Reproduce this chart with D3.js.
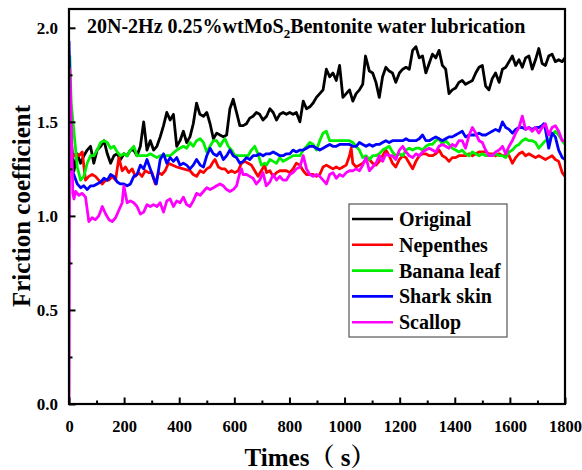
<!DOCTYPE html>
<html>
<head>
<meta charset="utf-8">
<script src="https://cdn.jsdelivr.net/npm/d3@7"></script>
<style>
  html, body { margin: 0; padding: 0; background: #fff; }
  svg text { font-family: "Liberation Serif", "Times New Roman", "Noto Serif CJK SC", "Noto Sans CJK SC", serif; font-weight: bold; fill: #000; }
</style>
</head>
<body>
<svg id="chart" width="582" height="470"></svg>
<script>
// Friction coefficient vs. time for five surface textures
const seriesNames = ["Original", "Nepenthes", "Banana leaf", "Shark skin", "Scallop"];
const seriesColors = ["#000000", "#ff0000", "#00ee00", "#0000ff", "#ff00ff"];

const xTicks = [0, 200, 400, 600, 800, 1000, 1200, 1400, 1600, 1800];
const yTicks = [0.0, 0.5, 1.0, 1.5, 2.0];

// [time (s), friction coefficient]
const original = [
  [0,1.72],[8,1.40],[18,1.24],[30,1.33],[42,1.28],[54,1.32],[66,1.35],[78,1.37],[90,1.28],[102,1.35],
  [115,1.37],[127,1.40],[139,1.33],[151,1.28],[163,1.32],[175,1.33],[187,1.30],[199,1.33],[211,1.32],
  [223,1.35],[235,1.35],[247,1.32],[259,1.37],[271,1.50],[283,1.35],[295,1.40],[307,1.35],[319,1.37],
  [331,1.42],[343,1.48],[355,1.55],[367,1.51],[379,1.54],[391,1.37],[403,1.40],[415,1.45],[427,1.39],
  [439,1.42],[451,1.49],[463,1.60],[475,1.54],[488,1.53],[500,1.55],[512,1.49],[524,1.41],[536,1.44],
  [548,1.43],[560,1.42],[572,1.43],[584,1.57],[596,1.62],[608,1.55],[620,1.48],[632,1.48],[644,1.49],
  [656,1.52],[668,1.53],[680,1.55],[692,1.54],[704,1.51],[717,1.53],[729,1.57],[741,1.55],[753,1.51],
  [765,1.54],[777,1.55],[789,1.54],[801,1.55],[813,1.54],[825,1.55],[838,1.50],[850,1.61],[862,1.57],
  [874,1.58],[886,1.60],[898,1.63],[910,1.65],[922,1.67],[934,1.78],[946,1.74],[958,1.76],[970,1.72],
  [982,1.80],[994,1.63],[1006,1.65],[1018,1.67],[1030,1.61],[1042,1.65],[1054,1.67],[1066,1.70],
  [1076,1.85],[1090,1.77],[1102,1.76],[1114,1.71],[1126,1.63],[1138,1.74],[1150,1.79],[1162,1.77],
  [1174,1.76],[1186,1.71],[1199,1.76],[1211,1.78],[1223,1.79],[1235,1.78],[1247,1.88],[1259,1.90],
  [1271,1.84],[1283,1.85],[1295,1.76],[1307,1.81],[1319,1.86],[1331,1.84],[1343,1.88],[1355,1.80],
  [1367,1.78],[1379,1.65],[1391,1.67],[1403,1.68],[1415,1.71],[1427,1.72],[1439,1.70],[1452,1.71],
  [1464,1.72],[1476,1.76],[1488,1.79],[1500,1.80],[1512,1.69],[1524,1.67],[1536,1.73],[1548,1.76],
  [1561,1.71],[1573,1.78],[1585,1.79],[1597,1.82],[1609,1.85],[1621,1.80],[1633,1.83],[1645,1.79],
  [1657,1.84],[1669,1.85],[1681,1.78],[1693,1.83],[1705,1.89],[1717,1.81],[1729,1.80],[1741,1.85],
  [1753,1.86],[1765,1.82],[1777,1.83],[1790,1.82],[1800,1.84]
];

const nepenthes = [
  [0,1.55],[6,1.30],[24,1.33],[36,1.32],[48,1.34],[60,1.19],[72,1.21],[84,1.22],[96,1.21],[108,1.19],
  [121,1.17],[133,1.19],[145,1.19],[157,1.21],[169,1.19],[181,1.31],[193,1.24],[205,1.26],[217,1.23],
  [229,1.25],[241,1.21],[253,1.23],[265,1.21],[277,1.24],[289,1.23],[301,1.23],[313,1.17],[325,1.23],
  [337,1.22],[349,1.24],[361,1.28],[391,1.26],[415,1.25],[439,1.24],[451,1.22],[463,1.21],[476,1.24],
  [488,1.23],[500,1.25],[512,1.26],[524,1.29],[530,1.30],[542,1.26],[554,1.25],[566,1.25],[578,1.23],
  [590,1.24],[602,1.23],[614,1.24],[626,1.28],[638,1.29],[650,1.28],[662,1.27],[674,1.24],[686,1.21],
  [698,1.24],[710,1.27],[717,1.23],[729,1.24],[741,1.21],[753,1.23],[765,1.24],[777,1.24],[789,1.24],
  [801,1.23],[813,1.25],[825,1.28],[838,1.27],[850,1.24],[862,1.22],[874,1.22],[886,1.22],[898,1.21],
  [910,1.22],[922,1.26],[934,1.27],[946,1.26],[958,1.25],[970,1.26],[982,1.25],[994,1.26],[1006,1.27],
  [1018,1.32],[1024,1.36],[1030,1.28],[1042,1.26],[1054,1.27],[1066,1.28],[1078,1.30],[1090,1.30],
  [1102,1.28],[1114,1.27],[1126,1.29],[1138,1.32],[1150,1.35],[1162,1.32],[1174,1.28],[1186,1.26],
  [1199,1.30],[1211,1.32],[1223,1.31],[1235,1.28],[1247,1.25],[1259,1.29],[1271,1.32],[1283,1.33],
  [1295,1.33],[1307,1.32],[1319,1.32],[1331,1.33],[1343,1.35],[1355,1.32],[1367,1.31],[1379,1.29],
  [1391,1.31],[1403,1.31],[1415,1.32],[1427,1.32],[1439,1.32],[1452,1.33],[1464,1.32],[1476,1.33],
  [1488,1.34],[1500,1.34],[1512,1.34],[1524,1.33],[1536,1.33],[1548,1.32],[1561,1.33],[1573,1.32],
  [1585,1.32],[1597,1.32],[1609,1.28],[1621,1.31],[1633,1.33],[1645,1.34],[1657,1.32],[1669,1.33],
  [1681,1.32],[1693,1.31],[1705,1.32],[1717,1.31],[1729,1.30],[1741,1.31],[1753,1.32],[1765,1.30],
  [1777,1.29],[1790,1.23],[1800,1.21]
];

const bananaLeaf = [
  [0,1.75],[3,1.85],[8,1.60],[30,1.26],[42,1.19],[54,1.21],[66,1.28],[78,1.32],[90,1.32],[102,1.35],
  [115,1.39],[127,1.40],[139,1.39],[151,1.36],[163,1.37],[175,1.34],[187,1.32],[199,1.33],[211,1.32],
  [223,1.35],[235,1.37],[247,1.32],[259,1.32],[271,1.32],[283,1.32],[295,1.33],[307,1.32],[319,1.31],
  [331,1.32],[343,1.32],[367,1.32],[391,1.35],[415,1.37],[427,1.36],[439,1.39],[451,1.37],[463,1.40],
  [476,1.41],[488,1.39],[500,1.34],[512,1.37],[524,1.40],[536,1.40],[548,1.37],[560,1.40],[566,1.41],
  [578,1.37],[590,1.35],[602,1.32],[614,1.32],[626,1.32],[638,1.32],[650,1.32],[662,1.35],[674,1.37],
  [686,1.33],[698,1.27],[710,1.28],[717,1.27],[729,1.30],[741,1.29],[753,1.28],[765,1.31],[777,1.29],
  [789,1.30],[801,1.31],[813,1.32],[825,1.32],[838,1.32],[850,1.35],[862,1.37],[874,1.39],[886,1.38],
  [898,1.35],[910,1.40],[922,1.44],[934,1.45],[946,1.40],[958,1.40],[970,1.40],[982,1.40],[994,1.40],
  [1006,1.40],[1018,1.40],[1030,1.39],[1042,1.37],[1054,1.35],[1066,1.31],[1078,1.32],[1090,1.30],
  [1102,1.32],[1114,1.32],[1126,1.33],[1138,1.35],[1150,1.36],[1162,1.37],[1174,1.34],[1186,1.32],
  [1199,1.33],[1211,1.32],[1223,1.35],[1235,1.36],[1247,1.35],[1259,1.36],[1271,1.36],[1283,1.35],
  [1295,1.37],[1307,1.38],[1319,1.38],[1331,1.40],[1343,1.41],[1355,1.38],[1367,1.40],[1379,1.38],
  [1391,1.36],[1403,1.35],[1415,1.34],[1427,1.35],[1439,1.33],[1452,1.32],[1464,1.34],[1476,1.33],
  [1488,1.32],[1500,1.33],[1512,1.32],[1524,1.32],[1536,1.32],[1548,1.33],[1561,1.32],[1573,1.32],
  [1585,1.31],[1597,1.34],[1609,1.35],[1621,1.37],[1633,1.38],[1645,1.40],[1657,1.41],[1669,1.40],
  [1681,1.40],[1693,1.39],[1705,1.36],[1717,1.38],[1729,1.40],[1741,1.40],[1753,1.43],[1765,1.45],
  [1777,1.43],[1790,1.40],[1800,1.38]
];

const sharkSkin = [
  [0,1.93],[4,1.60],[10,1.25],[30,1.17],[42,1.15],[54,1.16],[66,1.14],[78,1.16],[90,1.16],[102,1.17],
  [115,1.18],[127,1.20],[139,1.19],[151,1.22],[163,1.21],[175,1.18],[187,1.17],[199,1.17],[211,1.16],
  [223,1.17],[235,1.21],[247,1.22],[259,1.27],[271,1.25],[283,1.30],[295,1.25],[307,1.20],[317,1.17],
  [331,1.30],[343,1.33],[355,1.28],[367,1.31],[379,1.29],[391,1.31],[403,1.27],[415,1.28],[427,1.27],
  [439,1.25],[451,1.27],[463,1.30],[476,1.27],[488,1.26],[500,1.32],[512,1.36],[524,1.33],[536,1.32],
  [548,1.34],[560,1.30],[572,1.32],[584,1.35],[596,1.32],[608,1.31],[620,1.28],[632,1.29],[644,1.31],
  [656,1.30],[668,1.32],[680,1.32],[692,1.33],[704,1.32],[716,1.33],[729,1.33],[741,1.34],[753,1.33],
  [765,1.32],[777,1.32],[789,1.33],[801,1.33],[813,1.35],[825,1.34],[838,1.35],[850,1.35],[862,1.36],
  [874,1.37],[886,1.37],[898,1.36],[910,1.35],[922,1.36],[934,1.37],[946,1.38],[958,1.37],[970,1.37],
  [982,1.38],[994,1.38],[1006,1.38],[1018,1.38],[1030,1.37],[1042,1.37],[1054,1.39],[1066,1.38],
  [1078,1.37],[1090,1.38],[1102,1.37],[1114,1.38],[1126,1.38],[1138,1.39],[1150,1.40],[1162,1.39],
  [1174,1.40],[1186,1.40],[1199,1.40],[1211,1.40],[1223,1.41],[1235,1.40],[1247,1.40],[1259,1.40],
  [1271,1.41],[1283,1.43],[1295,1.40],[1307,1.40],[1319,1.41],[1331,1.42],[1343,1.41],[1355,1.40],
  [1367,1.41],[1379,1.42],[1391,1.42],[1403,1.43],[1415,1.44],[1427,1.45],[1439,1.42],[1452,1.43],
  [1464,1.43],[1476,1.43],[1488,1.44],[1500,1.43],[1512,1.43],[1524,1.44],[1536,1.45],[1548,1.46],
  [1561,1.45],[1573,1.50],[1585,1.47],[1597,1.46],[1609,1.44],[1621,1.46],[1633,1.47],[1645,1.47],
  [1657,1.46],[1669,1.47],[1681,1.46],[1693,1.47],[1705,1.47],[1717,1.48],[1723,1.49],[1729,1.46],
  [1741,1.36],[1753,1.44],[1765,1.42],[1777,1.35],[1790,1.31],[1800,1.30]
];

const scallop = [
  [0,0.00],[3,1.78],[8,1.50],[14,1.12],[18,1.09],[24,1.13],[36,1.11],[48,1.12],[60,1.10],[72,0.97],
  [84,0.99],[96,0.98],[108,1.00],[121,1.05],[133,1.01],[145,0.98],[157,0.97],[169,0.99],[181,1.03],
  [193,1.07],[199,1.16],[211,1.07],[223,1.08],[235,1.07],[247,1.05],[259,1.01],[271,1.02],[283,1.06],
  [295,1.05],[307,1.06],[319,1.05],[331,1.07],[343,1.02],[355,1.08],[367,1.09],[379,1.05],[391,1.08],
  [403,1.07],[415,1.10],[427,1.06],[439,1.05],[451,1.08],[463,1.12],[476,1.11],[488,1.13],[500,1.15],
  [512,1.14],[524,1.15],[536,1.16],[548,1.17],[560,1.16],[572,1.14],[584,1.13],[596,1.14],[608,1.16],
  [620,1.23],[626,1.25],[632,1.22],[644,1.22],[656,1.21],[668,1.20],[680,1.17],[692,1.19],[704,1.23],
  [716,1.16],[729,1.18],[741,1.22],[753,1.19],[765,1.21],[777,1.19],[789,1.19],[801,1.22],[813,1.23],
  [825,1.25],[838,1.26],[850,1.32],[862,1.25],[874,1.22],[886,1.21],[898,1.22],[910,1.21],[922,1.19],
  [934,1.17],[946,1.22],[958,1.23],[970,1.20],[982,1.22],[994,1.21],[1006,1.23],[1018,1.24],[1030,1.24],
  [1042,1.25],[1054,1.24],[1066,1.27],[1078,1.31],[1090,1.24],[1102,1.26],[1114,1.28],[1126,1.32],
  [1138,1.29],[1150,1.33],[1162,1.32],[1174,1.32],[1186,1.30],[1199,1.35],[1211,1.37],[1223,1.34],
  [1235,1.32],[1247,1.31],[1259,1.33],[1271,1.32],[1283,1.34],[1295,1.35],[1307,1.36],[1319,1.35],
  [1331,1.34],[1343,1.37],[1355,1.38],[1367,1.37],[1379,1.36],[1391,1.38],[1403,1.37],[1415,1.40],
  [1427,1.40],[1439,1.36],[1452,1.43],[1464,1.47],[1476,1.44],[1488,1.40],[1500,1.39],[1512,1.35],
  [1524,1.32],[1536,1.32],[1548,1.34],[1561,1.35],[1573,1.37],[1585,1.33],[1597,1.37],[1609,1.40],
  [1621,1.44],[1633,1.47],[1645,1.53],[1657,1.46],[1669,1.47],[1681,1.45],[1693,1.47],[1705,1.44],
  [1717,1.47],[1729,1.49],[1741,1.43],[1753,1.47],[1765,1.48],[1777,1.45],[1790,1.40],[1800,1.40]
];

const seriesData = [original, nepenthes, bananaLeaf, sharkSkin, scallop];

const svg = d3.select("#chart");
const plot = { left: 69, right: 565, top: 9, bottom: 404 };

const x = d3.scaleLinear().domain([0, 1800]).range([plot.left, plot.right]);
const y = d3.scaleLinear().domain([0, 2.1]).range([plot.bottom, plot.top]);

svg.append("defs").append("clipPath").attr("id", "plot-clip")
  .append("rect")
  .attr("x", plot.left).attr("y", plot.top)
  .attr("width", plot.right - plot.left).attr("height", plot.bottom - plot.top);

// curves
const line = d3.line().x(d => x(d[0])).y(d => y(d[1]));
svg.append("g").attr("clip-path", "url(#plot-clip)")
  .selectAll("path")
  .data(seriesData)
  .join("path")
  .attr("d", line)
  .attr("fill", "none")
  .attr("stroke", (d, i) => seriesColors[i])
  .attr("stroke-width", 2.8)
  .attr("stroke-linejoin", "round");

// minor ticks (inside)
const xMinor = d3.range(100, 1800, 200);
const yMinor = [0.25, 0.75, 1.25, 1.75];
svg.append("g").attr("transform", `translate(0,${plot.bottom})`)
  .call(d3.axisBottom(x).tickValues(xMinor).tickSizeInner(-3.5).tickSizeOuter(0).tickFormat(""))
  .call(g => g.select(".domain").remove())
  .call(g => g.selectAll("line").attr("stroke-width", 2));
svg.append("g").attr("transform", `translate(${plot.left},0)`)
  .call(d3.axisLeft(y).tickValues(yMinor).tickSizeInner(-3.5).tickSizeOuter(0).tickFormat(""))
  .call(g => g.select(".domain").remove())
  .call(g => g.selectAll("line").attr("stroke-width", 2));

// major ticks with labels
const xAxis = svg.append("g").attr("transform", `translate(0,${plot.bottom})`)
  .call(d3.axisBottom(x).tickValues(xTicks).tickSizeInner(-6.5).tickSizeOuter(0).tickPadding(16).tickFormat(d3.format("d")))
  .call(g => g.select(".domain").remove());
xAxis.selectAll("line").attr("stroke-width", 2);
xAxis.selectAll("text").attr("font-size", 16.5);

const yAxis = svg.append("g").attr("transform", `translate(${plot.left},0)`)
  .call(d3.axisLeft(y).tickValues(yTicks).tickSizeInner(-6.5).tickSizeOuter(0).tickPadding(11).tickFormat(d3.format(".1f")))
  .call(g => g.select(".domain").remove());
yAxis.selectAll("line").attr("stroke-width", 2);
yAxis.selectAll("text").attr("font-size", 17);
svg.selectAll(".tick text").attr("font-family", null);
// keep the last x label inside the canvas
xAxis.selectAll(".tick text").filter(d => d === 1800).attr("text-anchor", "end").attr("dx", "1em");

// frame
svg.append("rect")
  .attr("x", plot.left).attr("y", plot.top)
  .attr("width", plot.right - plot.left).attr("height", plot.bottom - plot.top)
  .attr("fill", "none").attr("stroke", "#000").attr("stroke-width", 2.2);

// title inside the frame
const title = svg.append("text").attr("x", 87).attr("y", 33).attr("font-size", 20);
title.append("tspan").text("20N-2Hz 0.25%wtMoS");
title.append("tspan").attr("font-size", 13).attr("dy", 5).text("2");
title.append("tspan").attr("dy", -5).text("Bentonite water lubrication");

// axis titles
svg.append("text")
  .attr("x", 310).attr("y", 466)
  .attr("text-anchor", "middle")
  .attr("font-size", 25)
  .text("Times（ s）");

svg.append("text")
  .attr("transform", "translate(30,206) rotate(-90)")
  .attr("text-anchor", "middle")
  .attr("font-size", 25)
  .text("Friction coefficient");

// legend
const legend = svg.append("g");
legend.append("rect")
  .attr("x", 349).attr("y", 204).attr("width", 158).attr("height", 133)
  .attr("fill", "#fff").attr("stroke", "#555").attr("stroke-width", 1.2);
const items = legend.selectAll("g.item")
  .data(seriesNames)
  .join("g")
  .attr("class", "item")
  .attr("transform", (d, i) => `translate(0,${219 + i * 25.8})`);
items.append("line")
  .attr("x1", 352).attr("x2", 393).attr("y1", 0).attr("y2", 0)
  .attr("stroke", (d, i) => seriesColors[i]).attr("stroke-width", 2.6);
items.append("text")
  .attr("x", 399).attr("y", 7)
  .attr("font-size", 20)
  .text(d => d);
</script>
</body>
</html>
